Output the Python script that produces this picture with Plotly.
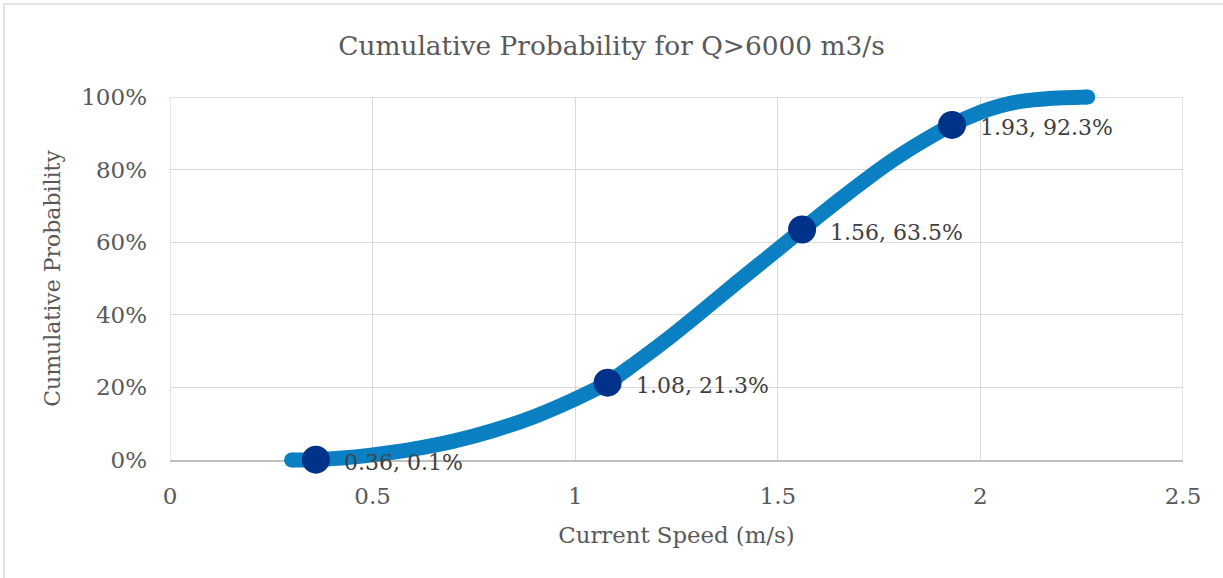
import plotly.graph_objects as go

# ---- data ----
curve_x = [0.30, 0.36, 0.45, 0.50, 0.60, 0.70, 0.80, 0.90, 1.00, 1.08, 1.15, 1.23,
           1.31, 1.40, 1.50, 1.56, 1.65, 1.72, 1.80, 1.93, 2.00, 2.05, 2.10, 2.17, 2.265]
curve_p = [0.000, 0.001, 0.008, 0.014, 0.030, 0.052, 0.082, 0.120, 0.168, 0.213, 0.268, 0.335,
           0.407, 0.490, 0.580, 0.635, 0.715, 0.775, 0.838, 0.923, 0.958, 0.976, 0.988, 0.996, 1.000]
point_x = [0.36, 1.08, 1.56, 1.93]
point_p = [0.001, 0.213, 0.635, 0.923]
x_ticks = [0, 0.5, 1, 1.5, 2, 2.5]
x_tick_labels = ["0", "0.5", "1", "1.5", "2", "2.5"]
y_ticks = [0, 0.2, 0.4, 0.6, 0.8, 1.0]
y_tick_labels = ["0%", "20%", "40%", "60%", "80%", "100%"]

title = "Cumulative Probability for Q>6000 m3/s"
x_title = "Current Speed (m/s)"
y_title = "Cumulative Probability"

# ---- layout geometry (pixels) ----
W, H = 1223, 578
ml, mr, mt, mb = 150, 20, 77, 98
pw, ph = W - ml - mr, H - mt - mb
PL, PR, PT, PB = 170, 1183, 97, 460  # plot area in px


def fx(px):
    return (px - ml) / pw


def fy(py):
    return (H - mb - py) / ph


XMIN, XMAX, YMIN, YMAX = x_ticks[0], x_ticks[-1], y_ticks[0], y_ticks[-1]
ux = (XMAX - XMIN) / (PR - PL)
uy = (YMAX - YMIN) / (PB - PT)
x2_range = [XMIN - (PL - ml) * ux, XMAX + (W - mr - PR) * ux]
y2_range = [YMIN - (H - mb - PB) * uy, YMAX + (PT - mt) * uy]

FONT = "DejaVu Serif"
LINE_C = "#0A80C3"
MARK_C = "#003289"
GRID_C = "#D9D9D9"
TXT_C = "#595959"

fig = go.Figure()

# invisible trace so the gridded subplot is drawn
fig.add_trace(go.Scatter(
    x=point_x, y=point_p, xaxis="x", yaxis="y", mode="markers",
    marker=dict(opacity=0, size=1), hoverinfo="skip", showlegend=False))

fig.add_trace(go.Scatter(
    x=curve_x, y=curve_p, xaxis="x2", yaxis="y2", mode="lines",
    line=dict(color=LINE_C, width=15, shape="spline", smoothing=0.8),
    hoverinfo="skip", showlegend=False))
# round caps at the ends of the thick line
fig.add_trace(go.Scatter(
    x=[curve_x[0], curve_x[-1]], y=[curve_p[0], curve_p[-1]], xaxis="x2", yaxis="y2",
    mode="markers", marker=dict(color=LINE_C, size=15, line=dict(width=0)),
    hoverinfo="skip", showlegend=False))
fig.add_trace(go.Scatter(
    x=point_x, y=point_p, xaxis="x2", yaxis="y2", mode="markers",
    marker=dict(color=MARK_C, size=28, line=dict(width=0)),
    showlegend=False))

for xv, pv in zip(point_x, point_p):
    fig.add_annotation(
        x=xv, y=pv, xref="x2", yref="y2", text=f"{xv:.2f}, {pv*100:.1f}%",
        showarrow=False, xanchor="left", yanchor="middle", xshift=26, yshift=-3,
        font=dict(family=FONT, size=22, color="#404040"))

fig.update_layout(
    template="none",
    width=W, height=H,
    margin=dict(l=ml, r=mr, t=mt, b=mb, pad=0, autoexpand=False),
    paper_bgcolor="white", plot_bgcolor="rgba(0,0,0,0)",
    showlegend=False,
    title=dict(text=title, x=0.5, xref="container", xanchor="center",
               y=1 - 46 / H, yref="container", yanchor="middle",
               font=dict(family=FONT, size=26.4, color=TXT_C)),
    xaxis=dict(domain=[fx(PL), fx(PR)], range=[XMIN, XMAX], anchor="y",
               automargin=False,
               tickvals=x_ticks, ticktext=x_tick_labels,
               showgrid=True, gridcolor=GRID_C, gridwidth=1.3, zeroline=False,
               showline=True, linecolor="#BFBFBF", linewidth=1.8,
               ticks="", ticklabelstandoff=14,
               tickfont=dict(family=FONT, size=23, color=TXT_C),
               title=dict(text=x_title, standoff=20,
                          font=dict(family=FONT, size=22.8, color=TXT_C))),
    yaxis=dict(domain=[fy(PB), fy(PT)], range=[YMIN, YMAX], anchor="x",
               automargin=False,
               tickvals=y_ticks, ticktext=y_tick_labels,
               showgrid=True, gridcolor=GRID_C, gridwidth=1.3, zeroline=False,
               showline=False, ticks="", ticklabelstandoff=22,
               tickfont=dict(family=FONT, size=23, color=TXT_C),
               title=dict(text=y_title, standoff=14,
                          font=dict(family=FONT, size=22, color=TXT_C))),
    xaxis2=dict(domain=[0, 1], range=x2_range, anchor="y2", visible=False,
                fixedrange=True, automargin=False),
    yaxis2=dict(domain=[0, 1], range=y2_range, anchor="x2", visible=False,
                fixedrange=True, automargin=False),
    shapes=[
        dict(type="rect", xref="paper", yref="paper",
             x0=fx(4), x1=fx(W + 20), y0=fy(H + 20), y1=fy(4),
             line=dict(color="#D9D9D9", width=1.5), fillcolor="rgba(0,0,0,0)",
             layer="below"),
        dict(type="line", xref="x", yref="y", x0=XMIN, x1=XMIN, y0=YMIN, y1=YMAX,
             line=dict(color=GRID_C, width=1.3), layer="below"),
        dict(type="line", xref="x", yref="y", x0=XMAX, x1=XMAX, y0=YMIN, y1=YMAX,
             line=dict(color=GRID_C, width=1.3), layer="below"),
        dict(type="line", xref="x", yref="y", x0=XMIN, x1=XMAX, y0=YMAX, y1=YMAX,
             line=dict(color=GRID_C, width=1.3), layer="below"),
    ],
)

fig.write_html("out.html")
